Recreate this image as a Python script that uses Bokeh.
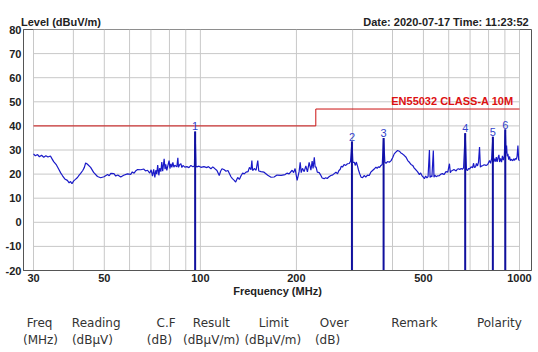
from math import log10
from bokeh.plotting import figure
from bokeh.layouts import column
from bokeh.models import Range1d, FixedTicker, Label, LinearAxis, LinearScale
from bokeh.embed import file_html
from bokeh.resources import INLINE
from bokeh.core.properties import value

# ---------------- data ----------------
FREQ = [30.0, 30.4, 30.9, 31.3, 31.8, 32.3, 32.8, 33.3, 33.9, 34.3, 34.7, 35.4, 36.0, 36.5, 37.0, 37.6,
        38.3, 38.8, 39.2, 39.6, 40.1, 40.6, 41.2, 41.7, 42.1, 42.8, 43.3, 43.7, 44.2, 45.3, 46.3, 47.6,
        48.7, 49.9, 51.2, 51.8, 52.4, 53.6, 54.3, 55.1, 56.3, 57.5, 59.1, 60.5, 61.2, 62.0, 62.8, 63.6,
        65.1, 66.5, 67.3, 68.3, 69.4, 70.1, 70.8, 71.4, 72.0, 72.5, 73.0, 73.5, 74.1, 74.6, 75.2, 75.7,
        76.2, 77.0, 77.5, 77.9, 78.5, 79.1, 79.8, 80.3, 80.8, 81.4, 82.0, 82.6, 83.2, 84.4, 85.0, 85.4,
        86.2, 86.9, 87.5, 88.2, 89.4, 90.7, 92.1, 93.4, 94.8, 95.8, 96.3, 96.9, 97.5, 99.0, 100.4, 102.6,
        104.8, 106.0, 107.9, 109.3, 110.5, 112.7, 114.6, 115.7, 116.9, 118.8, 120.3, 122.0, 124.7, 126.0,
        127.7, 129.0, 130.9, 132.5, 134.1, 135.7, 137.3, 139.0, 141.0, 142.5, 144.1, 145.0, 145.8, 147.6,
        149.5, 151.3, 152.4, 154.9, 158.3, 162.6, 166.5, 170.2, 173.9, 179.1, 184.3, 186.8, 189.7, 193.9,
        196.0, 198.1, 201.0, 203.9, 205.5, 207.0, 208.9, 211.5, 214.0, 216.5, 219.2, 222.0, 224.0, 225.5,
        227.5, 228.9, 230.5, 232.5, 235.7, 238.0, 240.8, 244.3, 247.0, 249.7, 253.0, 256.4, 260.0, 262.7,
        266.0, 269.0, 271.5, 274.3, 276.5, 278.9, 282.0, 285.4, 289.0, 292.7, 295.5, 298.5, 300.5, 303.5,
        306.0, 308.0, 310.8, 313.0, 315.8, 319.0, 322.3, 326.0, 329.8, 334.0, 338.2, 342.0, 346.4, 350.5,
        355.0, 358.0, 361.0, 364.5, 368.1, 371.5, 375.1, 378.5, 381.7, 386.0, 391.0, 396.0, 400.4, 405.0,
        409.7, 415.0, 420.2, 425.0, 429.4, 435.0, 441.1, 446.5, 451.8, 457.0, 462.7, 468.0, 473.5, 479.0,
        485.7, 490.0, 494.5, 499.0, 503.5, 508.0, 512.7, 517.0, 522.1, 524.5, 528.0, 531.6, 537.0, 539.5,
        543.0, 548.0, 554.0, 561.2, 567.0, 573.5, 580.0, 588.2, 596.0, 603.3, 607.0, 611.0, 616.5, 623.0,
        633.2, 638.0, 643.9, 650.0, 656.5, 662.0, 668.0, 675.8, 682.0, 687.2, 692.0, 697.2, 705.0, 712.5,
        718.0, 722.0, 728.2, 733.0, 738.7, 744.0, 749.5, 754.0, 760.0, 767.7, 775.0, 785.6, 795.0, 805.6,
        812.0, 818.0, 825.1, 830.0, 835.2, 841.0, 845.7, 851.0, 856.7, 862.0, 866.2, 872.0, 878.7, 884.0,
        890.3, 896.0, 902.5, 907.0, 911.0, 915.0, 919.7, 925.0, 931.0, 936.0, 941.1, 947.0, 953.5, 959.0,
        965.2, 971.0, 977.3, 983.0, 988.6, 994.0, 1000.0]
LEVEL = [28.4, 27.6, 28.1, 27.2, 27.8, 27.0, 27.6, 27.1, 27.5, 26.3, 25.2, 23.8, 22.0, 20.5, 19.3, 18.0,
         17.4, 16.4, 16.9, 16.0, 17.2, 17.8, 18.6, 19.6, 20.2, 21.5, 22.8, 24.6, 24.2, 22.8, 20.7, 19.0,
         18.5, 18.9, 19.8, 19.3, 20.3, 20.2, 19.2, 19.6, 18.8, 19.5, 20.1, 19.9, 20.9, 20.4, 21.4, 21.9,
         21.8, 22.1, 21.3, 21.6, 20.4, 21.8, 19.2, 22.0, 18.6, 21.6, 20.0, 23.8, 19.5, 22.5, 21.0, 25.0,
         21.2, 26.3, 22.0, 24.0, 21.5, 23.5, 25.6, 22.3, 24.3, 22.8, 24.9, 22.9, 23.7, 23.0, 26.8, 22.8,
         24.0, 24.3, 22.7, 23.6, 22.9, 23.1, 22.7, 23.6, 23.0, 23.4, 37.7, 23.2, 23.0, 23.3, 22.8, 23.1,
         22.7, 23.1, 22.2, 23.0, 22.5, 21.5, 19.4, 21.2, 22.2, 21.8, 21.2, 21.5, 18.9, 18.1,
         17.4, 16.7, 18.6, 17.8, 19.3, 20.4, 20.1, 20.8, 21.0, 22.8, 21.8, 25.6, 21.5, 22.3,
         21.6, 25.6, 21.3, 21.0, 20.8, 19.5, 18.7, 18.8, 19.6, 19.5, 19.8, 20.4, 20.1, 21.6,
         20.6, 22.3, 17.4, 21.0, 24.9, 20.6, 22.4, 21.0, 23.4, 20.9, 24.9, 21.6, 25.4, 22.4,
         27.0, 23.0, 22.9, 20.8, 20.6, 19.7, 18.4, 18.1, 18.5, 18.2, 18.9, 19.4, 19.7, 20.2,
         20.8, 20.1, 21.4, 22.0, 23.3, 22.9, 24.0, 23.6, 24.3, 24.4, 25.3, 33.5, 24.9, 24.9,
         23.6, 25.0, 23.3, 21.7, 20.1, 18.7, 18.5, 19.4, 18.8, 19.6, 19.4, 20.8, 21.5, 22.1,
         22.9, 22.4, 23.0, 22.8, 23.6, 24.0, 35.0, 24.9, 24.5, 25.2, 24.9, 25.6, 26.8, 28.4,
         29.1, 29.8, 29.5, 28.8, 28.4, 27.8, 27.0, 25.6, 24.9, 24.0, 23.6, 22.5, 21.8, 21.0,
         19.8, 20.5, 19.4, 18.8, 18.1, 19.2, 18.4, 19.0, 30.0, 18.6, 19.2, 18.9, 29.8, 18.7,
         19.6, 18.9, 19.3, 19.4, 20.0, 20.2, 19.8, 21.0, 20.8, 24.3, 20.6, 21.3, 21.5, 21.9,
         21.3, 22.0, 22.2, 21.9, 22.3, 22.0, 22.6, 37.0, 21.8, 21.5, 22.3, 22.1, 23.0, 22.6,
         24.5, 22.8, 23.0, 24.4, 23.4, 25.0, 31.2, 22.9, 23.3, 23.6, 23.9, 23.6, 24.0, 25.6,
         24.5, 26.5, 35.5, 25.0, 26.4, 25.2, 27.0, 25.1, 26.8, 28.0, 25.0, 26.5, 25.0, 27.6,
         25.8, 27.2, 38.5, 28.6, 31.9, 27.4, 28.4, 26.0, 27.3, 25.6, 26.2, 25.8, 25.6, 26.4,
         25.7, 26.5, 26.1, 27.5, 31.9, 25.9, 25.6]

LIMIT_FREQ = [30, 230, 230, 1000]
LIMIT_LEVEL = [40, 40, 47, 47]
LIMIT_NAME = "EN55032 CLASS-A 10M"

MARKER_ID = ["1", "2", "3", "4", "5", "6"]
MARKER_FREQ = [96.3, 298.5, 375.1, 675.8, 825.1, 902.5]
MARKER_LEVEL = [37.7, 33.5, 35.0, 37.0, 35.5, 38.5]

X_LABEL_TICKS = [30, 50, 100, 200, 500, 1000]
X_GRID_TICKS = [30, 40, 50, 60, 70, 80, 90, 100, 200, 300, 400, 500, 600, 700, 800, 900, 1000]
Y_TICKS = [-20, -10, 0, 10, 20, 30, 40, 50, 60, 70, 80]

Y_TITLE = "Level (dBuV/m)"
X_TITLE = "Frequency (MHz)"
STAMP = "Date: 2020-07-17  Time: 11:23:52"
HEAD_ROW1 = ["Freq", "Reading", "C.F", "Result", "Limit", "Over", "Remark", "Polarity"]
HEAD_ROW2 = ["(MHz)", "(dB\u03bcV)", "(dB)", "(dB\u03bcV/m)", "(dB\u03bcV/m)", "(dB)"]

# ---------------- layout ----------------
W, H = 538, 352
CHART_H = 300
TABLE_H = H - CHART_H
FRAME_L, FRAME_R, FRAME_T, FRAME_B = 23, 531, 29, 270
PX_30, PX_1000 = 33, 519
DPP = log10(1000 / 30) / (PX_1000 - PX_30)
X0 = 30 / 10 ** ((PX_30 - FRAME_L) * DPP)
X1 = 1000 * 10 ** ((FRAME_R - PX_1000) * DPP)
Y0, Y1 = -20, 80

p = figure(width=W, height=CHART_H, x_axis_type="log",
           x_range=Range1d(X0, X1), y_range=Range1d(Y0, Y1),
           output_backend="svg", toolbar_location=None,
           min_border_left=FRAME_L, min_border_right=W - FRAME_R,
           min_border_top=FRAME_T, min_border_bottom=CHART_H - FRAME_B)
p.background_fill_color = "white"
p.border_fill_color = "white"
p.outline_line_color = "#555555"
p.xgrid.grid_line_color = None
p.ygrid.grid_line_color = None

# page-pixel helper range for the text row above the frame
p.extra_x_ranges = {"px": Range1d(FRAME_L, FRAME_R)}
p.extra_x_scales = {"px": LinearScale()}

AX_FONT = "Liberation Sans"
for ax in (p.xaxis[0], p.yaxis[0]):
    ax.major_tick_line_color = None
    ax.minor_tick_line_color = None
    ax.major_tick_out = 0
    ax.minor_tick_out = 0
    ax.major_tick_in = 0
    ax.minor_tick_in = 0
    ax.axis_line_color = "#555555"
    ax.major_label_text_font = AX_FONT
    ax.major_label_text_font_style = "bold"
    ax.major_label_text_font_size = "11px"
    ax.major_label_text_color = "#222222"

p.xaxis.ticker = FixedTicker(ticks=X_LABEL_TICKS)
p.xaxis.major_label_overrides = {t: str(t) for t in X_LABEL_TICKS}
p.xaxis.major_label_standoff = 3
p.xaxis.axis_label = X_TITLE
p.xaxis.axis_label_standoff = 0
p.xaxis.axis_label_text_font = AX_FONT
p.xaxis.axis_label_text_font_style = "bold"
p.xaxis.axis_label_text_font_size = "11px"
p.xaxis.axis_label_text_color = "#222222"

p.yaxis.ticker = FixedTicker(ticks=Y_TICKS)
p.yaxis.major_label_overrides = {t: str(t) for t in Y_TICKS}
p.yaxis.major_label_standoff = 2

# top texts (an unlined axis in the top border)
TOP_C = [60.5, 447.0]
top = LinearAxis(x_range_name="px", ticker=FixedTicker(ticks=TOP_C),
                 major_label_overrides={c: t for c, t in zip(TOP_C, [Y_TITLE, STAMP])})
top.axis_line_color = None
top.major_tick_line_color = None
top.minor_tick_line_color = None
top.major_tick_out = 0
top.minor_tick_out = 0
top.major_tick_in = 0
top.minor_tick_in = 0
top.major_label_standoff = 2
top.major_label_text_font = AX_FONT
top.major_label_text_font_size = "11px"
top.major_label_text_font_style = "bold"
top.major_label_text_color = "#222222"
p.add_layout(top, "above")

# grid (only over the 30..1000 MHz span)
GRID_C = "#c8c8c8"
p.segment(x0=X_GRID_TICKS, y0=[Y0] * len(X_GRID_TICKS), x1=X_GRID_TICKS, y1=[Y1] * len(X_GRID_TICKS),
          line_color=GRID_C, line_width=1)
p.segment(x0=[30] * len(Y_TICKS), y0=Y_TICKS, x1=[1000] * len(Y_TICKS), y1=Y_TICKS,
          line_color=GRID_C, line_width=1)

# limit
p.line(LIMIT_FREQ, LIMIT_LEVEL, line_color="#cc1111", line_width=1)

# trace
p.line(FREQ, LEVEL, line_color="#1a1ac8", line_width=1.2)

# markers
p.segment(x0=MARKER_FREQ, y0=[Y0] * len(MARKER_FREQ), x1=MARKER_FREQ, y1=MARKER_LEVEL,
          line_color="#10109e", line_width=2)
p.text(x=MARKER_FREQ, y=MARKER_LEVEL, text=MARKER_ID, y_offset=-1,
       text_align="center", text_baseline="bottom",
       text_font=value(AX_FONT), text_font_size="11px", text_color="#3344cc")

p.add_layout(Label(x=10 ** (log10(X0) + (513 - FRAME_L) * DPP), y=LIMIT_LEVEL[-1], y_offset=2,
                   text=LIMIT_NAME, text_align="right", text_baseline="bottom",
                   text_font=AX_FONT, text_font_style="bold", text_font_size="11px",
                   text_color="#dd1111"))

# ---------------- table header strip below the chart ----------------
t = figure(width=W, height=TABLE_H, x_range=Range1d(0, W), y_range=Range1d(TABLE_H, 0),
           output_backend="svg", toolbar_location=None, min_border=0,
           x_axis_location=None, y_axis_location=None)
t.outline_line_color = None
t.xgrid.visible = False
t.ygrid.visible = False
t.background_fill_color = "white"
t.border_fill_color = "white"

ROW1_C = [17.0, 77.0, 151.0, 199.0, 265.0, 329.0, 414.0, 504.0]
ROW2_C = [18.0, 73.0, 144.0, 199.0, 264.0, 322.0]
ROW1_Y, ROW2_Y = 322 - CHART_H, 339 - CHART_H
t.text(x=ROW1_C, y=[ROW1_Y] * len(ROW1_C), text=HEAD_ROW1, text_align="center", text_baseline="middle",
       text_font=value("DejaVu Sans"), text_font_size="12px", text_color="#333333")
t.text(x=ROW2_C, y=[ROW2_Y] * len(ROW2_C), text=HEAD_ROW2, text_align="center", text_baseline="middle",
       text_font=value("DejaVu Sans"), text_font_size="12px", text_color="#333333")

layout = column(p, t, spacing=0)
open("out.html", "w").write(file_html(layout, INLINE))
